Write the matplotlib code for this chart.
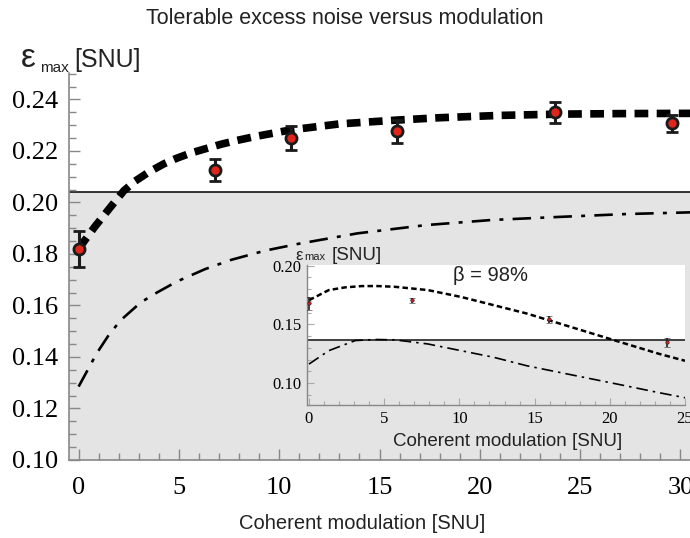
import matplotlib
matplotlib.use("Agg")
import matplotlib.pyplot as plt
from matplotlib.ticker import MultipleLocator, FormatStrFormatter

# експериментальні точки (головний графік)
mod_pts = [0.0, 6.8, 10.6, 15.86, 23.75, 29.56]
eps_pts = [0.1819, 0.2126, 0.2249, 0.2277, 0.2350, 0.2307]
eps_err = [0.0070, 0.0044, 0.0047, 0.0045, 0.0040, 0.0034]

# теоретична крива (товстий пунктир)
fit_x = [0.0, 0.8, 1.6, 2.25, 2.8, 3.5, 4.25, 4.9, 5.6, 6.3, 7.1, 7.9, 8.8,
         10.6, 13.0, 15.9, 18.0, 21.0, 24.0, 27.0, 30.7]
fit_y = [0.1820, 0.1905, 0.1983, 0.2045, 0.2082, 0.2118, 0.2150, 0.2172,
         0.2192, 0.2208, 0.2226, 0.2241, 0.2256, 0.2282, 0.2305, 0.2320,
         0.2329, 0.2338, 0.2343, 0.2345, 0.2346]

# нижня крива (штрих-пунктир)
low_x = [0.0, 0.9, 1.5, 2.1, 3.1, 3.9, 4.9, 6.3, 7.6, 9.3, 11.0, 13.9, 17.3,
         20.6, 24.0, 27.3, 30.7]
low_y = [0.1285, 0.1414, 0.1485, 0.1543, 0.1612, 0.1650, 0.1693, 0.1741,
         0.1777, 0.1813, 0.1840, 0.1880, 0.1912, 0.1932, 0.1944, 0.1955,
         0.1962]

threshold = 0.204

# дані вставки (beta = 98%)
ins_pts_x = [0.0, 6.83, 15.97, 23.8]
ins_pts_y = [0.1678, 0.1706, 0.1543, 0.1348]
ins_err = [0.0052, 0.0020, 0.0030, 0.0037]

ins_fit_x = [0.0, 1.32, 2.4, 3.52, 4.6, 5.7, 7.9, 10.1, 12.3, 14.5, 16.7,
             18.9, 21.1, 23.3, 25.0]
ins_fit_y = [0.1706, 0.1792, 0.1815, 0.1826, 0.1826, 0.1820, 0.1792, 0.1734,
             0.1663, 0.1592, 0.1506, 0.1420, 0.1334, 0.1249, 0.1191]

ins_low_x = [0.0, 1.32, 3.08, 4.4, 5.7, 7.9, 10.1, 12.3, 14.5, 16.7, 18.9,
             21.1, 23.3, 25.0]
ins_low_y = [0.1163, 0.1277, 0.1363, 0.1372, 0.1369, 0.1334, 0.1277, 0.1220,
             0.1148, 0.1091, 0.1034, 0.0977, 0.0919, 0.0877]

ins_threshold = 0.1371

grey = "#e4e4e4"
spine_col = "#888888"
txt_col = "#222222"
serif = ["Liberation Serif", "DejaVu Serif"]
sans = ["Liberation Sans", "DejaVu Sans"]

fig = plt.figure(figsize=(6.9, 5.38), dpi=100)

# головні осі
ax = fig.add_axes([0.100, 0.145, 0.905, 0.719])
ax.set_xlim(-0.48, 30.65)
ax.set_ylim(0.10, 0.2502)
ax.axhspan(0.10, threshold, color=grey, zorder=0)
ax.axhline(threshold, color="black", lw=1.1, zorder=1)

ax.plot(low_x, low_y, color="black", lw=1.9, dashes=(7, 3.5, 1.5, 3.5), zorder=2)
ax.plot(fit_x, fit_y, color="black", lw=5.5, dashes=(1.8, 1.1),
        solid_capstyle="butt", zorder=3)
ax.errorbar(mod_pts, eps_pts, yerr=eps_err, fmt="o", color="#1a1a1a",
            ecolor="#1a1a1a", elinewidth=2.2, capsize=4, capthick=2.2,
            markersize=8, markerfacecolor="#e0261c", markeredgecolor="#1a1a1a",
            markeredgewidth=2, zorder=4)

for s in ["top", "right"]:
    ax.spines[s].set_visible(False)
for s in ["left", "bottom"]:
    ax.spines[s].set_color(spine_col)
    ax.spines[s].set_linewidth(1.2)
ax.xaxis.set_major_locator(MultipleLocator(5))
ax.xaxis.set_minor_locator(MultipleLocator(1))
ax.yaxis.set_major_locator(MultipleLocator(0.02))
ax.yaxis.set_minor_locator(MultipleLocator(0.005))
ax.yaxis.set_major_formatter(FormatStrFormatter("%.2f"))
ax.tick_params(which="both", direction="in", color=spine_col, width=1)
ax.tick_params(which="major", length=8)
ax.tick_params(which="minor", length=5)
ax.tick_params(axis="y", pad=8)
ax.tick_params(axis="x", pad=12)
for lab in ax.get_xticklabels() + ax.get_yticklabels():
    lab.set_family(serif)
    lab.set_fontsize(19)

ax.set_xlabel("Coherent modulation [SNU]", family=sans, fontsize=14.5,
              color=txt_col)
ax.xaxis.set_label_coords(0.469, -0.14)
fig.text(0.5, 0.966, "Tolerable excess noise versus modulation", family=sans,
         fontsize=15.5, ha="center", va="center", color=txt_col)
fig.text(0.030, 0.875, "ε", family=sans, fontsize=24, ha="left",
         va="baseline", color=txt_col)
fig.text(0.058, 0.866, "max", family=sans, fontsize=11, ha="left",
         va="baseline", color=txt_col)
fig.text(0.107, 0.875, "[SNU]", family=sans, fontsize=18, ha="left",
         va="baseline", color=txt_col)

# вставка
ins = fig.add_axes([0.4445, 0.2472, 0.5483, 0.2602])
ins.set_xlim(-0.15, 25.0)
ins.set_ylim(0.0815, 0.2005)
ins.set_facecolor("white")
ins.axhspan(0.0, ins_threshold, color=grey, zorder=0)
ins.axhline(ins_threshold, color=txt_col, lw=1.2, zorder=1)
ins.plot(ins_low_x, ins_low_y, color="black", lw=1.2, dashes=(7, 3, 1.5, 3), zorder=2)
ins.plot(ins_fit_x, ins_fit_y, color="black", lw=1.8, dashes=(2.2, 1.3), zorder=3)
ins.errorbar(ins_pts_x, ins_pts_y, yerr=ins_err, fmt="o", color=txt_col,
             ecolor=txt_col, elinewidth=1.2, capsize=2.5, capthick=1.2,
             markersize=2.5, markerfacecolor="#cc2020", markeredgewidth=0.4,
             zorder=4)
for s in ["top", "right"]:
    ins.spines[s].set_visible(False)
for s in ["left", "bottom"]:
    ins.spines[s].set_color(spine_col)
    ins.spines[s].set_linewidth(1)
ins.xaxis.set_major_locator(MultipleLocator(5))
ins.xaxis.set_minor_locator(MultipleLocator(1))
ins.yaxis.set_major_locator(MultipleLocator(0.05))
ins.yaxis.set_minor_locator(MultipleLocator(0.01))
ins.yaxis.set_major_formatter(FormatStrFormatter("%.2f"))
ins.tick_params(which="both", direction="in", color="#aaaaaa", width=0.8)
ins.tick_params(which="major", length=5)
ins.tick_params(which="minor", length=3)
ins.tick_params(axis="both", pad=4)
for lab in ins.get_xticklabels() + ins.get_yticklabels():
    lab.set_family(serif)
    lab.set_fontsize(12)
ins.set_xlabel("Coherent modulation [SNU]", family=sans, fontsize=13.5,
               color=txt_col)
ins.xaxis.set_label_coords(0.53, -0.20)
ins.text(12.1, 0.1915, "β = 98%", family=sans, fontsize=14.5, ha="center",
         va="center", color=txt_col)
ins.text(-0.9, 0.2048, "ε", family=sans, fontsize=12, ha="left",
         va="baseline", color=txt_col, clip_on=False)
ins.text(-0.3, 0.2048, "max", family=sans, fontsize=8, ha="left",
         va="baseline", color=txt_col, clip_on=False)
ins.text(1.5, 0.2048, "[SNU]", family=sans, fontsize=13.5, ha="left",
         va="baseline", color=txt_col, clip_on=False)

fig.savefig("out.png", dpi=100)
